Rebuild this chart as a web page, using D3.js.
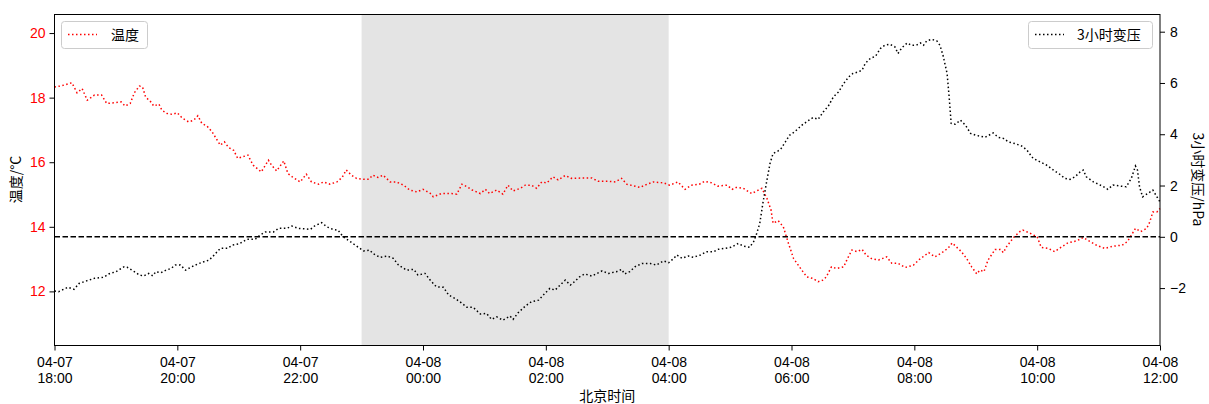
<!DOCTYPE html>
<html>
<head>
<meta charset="utf-8">
<script src="https://cdn.jsdelivr.net/npm/d3@7"></script>
<style>
  body { margin: 0; background: #fff; }
  svg text { font-family: "Noto Sans CJK SC", "DejaVu Sans", sans-serif; }
  svg .tick text { font-family: "Liberation Sans", Arial, sans-serif; }
</style>
</head>
<body>
<svg id="chart" width="1209" height="404"></svg>
<script>
  // minutes after 04-07 18:00, value
  var temperature = [
    [0, 18.33], [6, 18.36], [17, 18.46], [22, 18.15], [27, 18.28], [32, 17.92], [39, 18.08], [46, 18.08],
    [51, 17.82], [58, 17.84], [65, 17.87], [69, 17.74], [74, 17.82], [78, 18.15], [83, 18.36], [86, 18.33],
    [89, 18.02], [94, 17.87], [97, 17.74], [102, 17.80], [105, 17.61], [110, 17.51], [115, 17.48], [120, 17.53],
    [125, 17.36], [131, 17.25], [136, 17.30], [140, 17.44], [144, 17.20], [149, 17.12], [154, 16.94], [159, 16.68],
    [162, 16.53], [166, 16.63], [170, 16.46], [175, 16.37], [179, 16.12], [189, 16.22], [194, 15.91], [202, 15.70],
    [209, 16.06], [212, 15.91], [217, 15.73], [224, 16.04], [228, 15.65], [233, 15.53], [240, 15.39], [246, 15.63],
    [251, 15.39], [258, 15.32], [263, 15.39], [269, 15.32], [276, 15.39], [281, 15.53], [285, 15.76], [290, 15.60],
    [295, 15.50], [302, 15.47], [307, 15.47], [311, 15.60], [316, 15.53], [321, 15.60], [328, 15.39], [334, 15.39],
    [341, 15.29], [347, 15.14], [354, 15.08], [360, 15.16], [367, 15.04], [370, 14.93], [378, 15.03], [388, 15.03],
    [393, 15.01], [398, 15.32], [403, 15.24], [408, 15.14], [416, 15.03], [421, 15.16], [425, 15.03], [432, 15.14],
    [438, 15.01], [443, 15.29], [448, 15.11], [455, 15.19], [460, 15.29], [466, 15.29], [471, 15.19], [476, 15.39],
    [481, 15.36], [487, 15.55], [492, 15.45], [499, 15.59], [505, 15.50], [515, 15.51], [525, 15.51], [531, 15.41],
    [541, 15.41], [548, 15.39], [554, 15.50], [559, 15.32], [572, 15.22], [579, 15.32], [585, 15.39], [595, 15.36],
    [601, 15.29], [609, 15.39], [616, 15.16], [622, 15.29], [630, 15.32], [635, 15.41], [642, 15.36], [648, 15.26],
    [657, 15.29], [662, 15.16], [666, 15.22], [673, 15.19], [681, 15.03], [686, 15.11], [691, 15.19], [696, 14.88],
    [700, 14.52], [702, 14.11], [707, 14.19], [712, 14.00], [717, 13.49], [722, 13.02], [730, 12.66], [735, 12.45],
    [741, 12.40], [746, 12.30], [751, 12.35], [754, 12.45], [759, 12.76], [764, 12.71], [771, 12.76], [774, 12.97],
    [779, 13.28], [784, 13.23], [789, 13.30], [793, 13.12], [798, 13.02], [805, 12.97], [813, 13.07], [818, 12.87],
    [824, 12.87], [831, 12.74], [839, 12.81], [845, 12.99], [854, 13.20], [860, 13.07], [867, 13.20], [873, 13.34],
    [877, 13.50], [881, 13.38], [886, 13.23], [891, 13.02], [896, 12.76], [901, 12.54], [904, 12.66], [908, 12.61],
    [912, 12.97], [919, 13.30], [924, 13.30], [927, 13.20], [930, 13.38], [937, 13.67], [943, 13.85], [946, 13.90],
    [953, 13.80], [960, 13.69], [964, 13.36], [971, 13.33], [977, 13.23], [984, 13.38], [990, 13.50], [999, 13.57],
    [1005, 13.67], [1012, 13.54], [1018, 13.43], [1026, 13.33], [1034, 13.40], [1043, 13.43], [1048, 13.54], [1052, 13.74],
    [1056, 13.95], [1061, 13.85], [1067, 13.95], [1070, 14.15], [1073, 14.46], [1077, 14.46], [1080, 14.57]
  ];

  var pressure3h = [
    [0, -2.11], [4, -2.14], [13, -1.97], [19, -2.05], [24, -1.82], [32, -1.71], [39, -1.62], [48, -1.58],
    [53, -1.45], [60, -1.36], [68, -1.17], [71, -1.19], [78, -1.36], [83, -1.49], [87, -1.53], [92, -1.43],
    [96, -1.52], [99, -1.36], [104, -1.40], [109, -1.30], [114, -1.23], [118, -1.10], [123, -1.10], [128, -1.30],
    [133, -1.19], [140, -1.06], [146, -0.97], [151, -0.91], [156, -0.71], [162, -0.45], [169, -0.45], [174, -0.32],
    [180, -0.28], [188, -0.10], [196, -0.10], [201, 0.07], [206, 0.19], [214, 0.19], [219, 0.33], [227, 0.33],
    [232, 0.42], [238, 0.33], [250, 0.29], [254, 0.42], [261, 0.55], [266, 0.39], [272, 0.29], [277, 0.26],
    [282, 0.00], [289, -0.19], [295, -0.36], [302, -0.55], [308, -0.52], [311, -0.65], [318, -0.80], [325, -0.75],
    [331, -0.84], [336, -1.10], [344, -1.30], [351, -1.27], [355, -1.49], [362, -1.43], [367, -1.69], [373, -1.95],
    [380, -1.97], [385, -2.27], [391, -2.40], [396, -2.53], [403, -2.75], [409, -2.75], [416, -3.01], [422, -2.99],
    [427, -3.22], [432, -3.12], [438, -3.25], [445, -3.09], [448, -3.22], [453, -2.96], [460, -2.70], [466, -2.53],
    [473, -2.47], [479, -2.21], [484, -2.01], [489, -2.08], [494, -1.88], [499, -1.69], [504, -1.88], [508, -1.75],
    [513, -1.56], [518, -1.45], [525, -1.53], [530, -1.43], [535, -1.33], [541, -1.43], [549, -1.36], [554, -1.27],
    [557, -1.45], [562, -1.36], [567, -1.17], [574, -1.04], [582, -1.04], [588, -1.10], [595, -0.94], [600, -1.01],
    [605, -0.84], [608, -0.71], [613, -0.84], [619, -0.75], [624, -0.80], [631, -0.71], [637, -0.58], [644, -0.58],
    [648, -0.49], [655, -0.45], [661, -0.41], [668, -0.26], [673, -0.36], [679, -0.41], [683, -0.19], [686, 0.13],
    [689, 0.52], [692, 1.30], [696, 2.21], [699, 2.86], [702, 3.25], [707, 3.35], [710, 3.45], [714, 3.70],
    [718, 3.96], [723, 4.09], [730, 4.35], [736, 4.52], [741, 4.65], [746, 4.58], [751, 4.87], [756, 5.10],
    [761, 5.46], [766, 5.65], [771, 5.98], [776, 6.24], [780, 6.37], [785, 6.43], [789, 6.50], [792, 6.76],
    [797, 6.96], [802, 7.04], [807, 7.35], [811, 7.47], [816, 7.51], [821, 7.41], [824, 7.15], [828, 7.38],
    [833, 7.56], [837, 7.47], [842, 7.47], [846, 7.56], [849, 7.47], [852, 7.64], [857, 7.70], [862, 7.64],
    [865, 7.47], [868, 7.08], [872, 6.37], [874, 5.46], [876, 4.42], [880, 4.39], [885, 4.55], [890, 4.35],
    [895, 4.03], [900, 3.96], [904, 3.93], [909, 3.88], [917, 4.05], [922, 3.88], [927, 3.84], [932, 3.70],
    [938, 3.64], [945, 3.54], [950, 3.38], [956, 3.06], [963, 2.92], [969, 2.80], [976, 2.60], [982, 2.44],
    [987, 2.28], [992, 2.24], [997, 2.34], [1002, 2.53], [1005, 2.60], [1008, 2.34], [1015, 2.14], [1020, 2.05],
    [1025, 1.95], [1029, 1.85], [1034, 2.02], [1041, 1.98], [1047, 1.95], [1052, 2.28], [1056, 2.76], [1058, 2.60],
    [1060, 1.95], [1063, 1.56], [1068, 1.69], [1073, 1.82], [1077, 1.56], [1080, 1.36]
  ];

  var startTime = new Date(2024, 3, 7, 18, 0);
  var endTime = new Date(2024, 3, 8, 12, 0);
  var shadeRange = [new Date(2024, 3, 7, 23, 0), new Date(2024, 3, 8, 4, 0)];
  var tempTicks = [12, 14, 16, 18, 20];
  var presTicks = [-2, 0, 2, 4, 6, 8];
  var tempDomain = [10.34, 20.59];
  var presDomain = [-4.22, 8.69];

  (function () {
    var pLeft = 54.5, pRight = 1160, pTop = 14, pBottom = 345;
    var svg = d3.select('#chart');

    function toDate(m) {
      return new Date(startTime.getTime() + m * 60000);
    }

    var x = d3.scaleTime().domain([startTime, endTime]).range([pLeft, pRight]);
    var yT = d3.scaleLinear().domain(tempDomain).range([pBottom, pTop]);
    var yP = d3.scaleLinear().domain(presDomain).range([pBottom, pTop]);

    // night shading
    svg.append('rect')
      .attr('x', x(shadeRange[0]))
      .attr('y', pTop)
      .attr('width', x(shadeRange[1]) - x(shadeRange[0]))
      .attr('height', pBottom - pTop)
      .attr('fill', '#e4e4e4');

    var lineT = d3.line()
      .x(function (d) { return x(toDate(d[0])); })
      .y(function (d) { return yT(d[1]); });
    var lineP = d3.line()
      .x(function (d) { return x(toDate(d[0])); })
      .y(function (d) { return yP(d[1]); });

    svg.append('path')
      .datum(temperature)
      .attr('d', lineT)
      .attr('fill', 'none')
      .attr('stroke', '#ff0000')
      .attr('stroke-width', 1.5)
      .attr('stroke-dasharray', '1.5,2.5');

    // left legend
    var lg1 = svg.append('g');
    lg1.append('rect')
      .attr('x', 61.5).attr('y', 21.5).attr('width', 86).attr('height', 27).attr('rx', 3)
      .attr('fill', '#fff').attr('fill-opacity', 0.8).attr('stroke', '#cccccc');
    lg1.append('line')
      .attr('x1', 68).attr('x2', 97).attr('y1', 34.5).attr('y2', 34.5)
      .attr('stroke', '#ff0000').attr('stroke-width', 1.5).attr('stroke-dasharray', '1.5,2.5');
    lg1.append('text')
      .attr('x', 111).attr('y', 40).attr('font-size', 14).text('温度');

    svg.append('path')
      .datum(pressure3h)
      .attr('d', lineP)
      .attr('fill', 'none')
      .attr('stroke', '#000')
      .attr('stroke-width', 1.5)
      .attr('stroke-dasharray', '1.5,2.5');

    svg.append('line')
      .attr('x1', pLeft).attr('x2', pRight)
      .attr('y1', yP(0)).attr('y2', yP(0))
      .attr('stroke', '#000')
      .attr('stroke-width', 1.5)
      .attr('stroke-dasharray', '5.5,2.5');

    // frame
    svg.append('rect')
      .attr('x', pLeft).attr('y', pTop + 0.5)
      .attr('width', pRight - pLeft).attr('height', pBottom - pTop)
      .attr('fill', 'none').attr('stroke', '#000').attr('stroke-width', 1);

    // axes
    var xAxis = d3.axisBottom(x)
      .ticks(d3.timeHour.every(2))
      .tickSize(5)
      .tickFormat('');
    var gx = svg.append('g')
      .attr('transform', 'translate(0,' + (pBottom + 0.5) + ')')
      .call(xAxis);
    gx.select('.domain').remove();
    var fmtDay = d3.timeFormat('%m-%d'), fmtHour = d3.timeFormat('%H:%M');
    gx.selectAll('.tick').each(function (d) {
      var tick = d3.select(this);
      tick.append('text')
        .attr('fill', '#000').attr('font-size', 14).attr('text-anchor', 'middle')
        .attr('x', 0).attr('y', 21).text(fmtDay(d));
      tick.append('text')
        .attr('fill', '#000').attr('font-size', 14).attr('text-anchor', 'middle')
        .attr('x', 0).attr('y', 37.5).text(fmtHour(d));
    });

    var gl = svg.append('g')
      .attr('transform', 'translate(' + pLeft + ',0)')
      .call(d3.axisLeft(yT).tickValues(tempTicks).tickSize(5).tickPadding(4));
    gl.select('.domain').remove();
    gl.selectAll('text').attr('fill', '#ff0000').attr('font-size', 14);

    var gr = svg.append('g')
      .attr('transform', 'translate(' + pRight + ',0)')
      .call(d3.axisRight(yP).tickValues(presTicks).tickSize(5).tickPadding(5)
        .tickFormat(function (d) { return d < 0 ? '\u2212' + Math.abs(d) : d; }));
    gr.select('.domain').remove();
    gr.selectAll('text').attr('fill', '#000').attr('font-size', 14);

    svg.selectAll('.tick line').attr('stroke', '#000');

    // axis titles
    svg.append('text')
      .attr('transform', 'translate(21,' + ((pTop + pBottom) / 2) + ') rotate(-90)')
      .attr('text-anchor', 'middle').attr('font-size', 14).text('温度/°C');
    svg.append('text')
      .attr('transform', 'translate(1193,' + ((pTop + pBottom) / 2) + ') rotate(90)')
      .attr('text-anchor', 'middle').attr('font-size', 14).text('3小时变压/hPa');
    svg.append('text')
      .attr('x', (pLeft + pRight) / 2).attr('y', 401)
      .attr('text-anchor', 'middle').attr('font-size', 14).text('北京时间');

    // right legend
    var lg2 = svg.append('g');
    lg2.append('rect')
      .attr('x', 1028.5).attr('y', 21.5).attr('width', 124).attr('height', 27).attr('rx', 3)
      .attr('fill', '#fff').attr('fill-opacity', 0.8).attr('stroke', '#cccccc');
    lg2.append('line')
      .attr('x1', 1035).attr('x2', 1064).attr('y1', 34.5).attr('y2', 34.5)
      .attr('stroke', '#000').attr('stroke-width', 1.5).attr('stroke-dasharray', '1.5,2.5');
    lg2.append('text')
      .attr('x', 1077).attr('y', 40).attr('font-size', 14).text('3小时变压');
  })();
</script>
</body>
</html>
